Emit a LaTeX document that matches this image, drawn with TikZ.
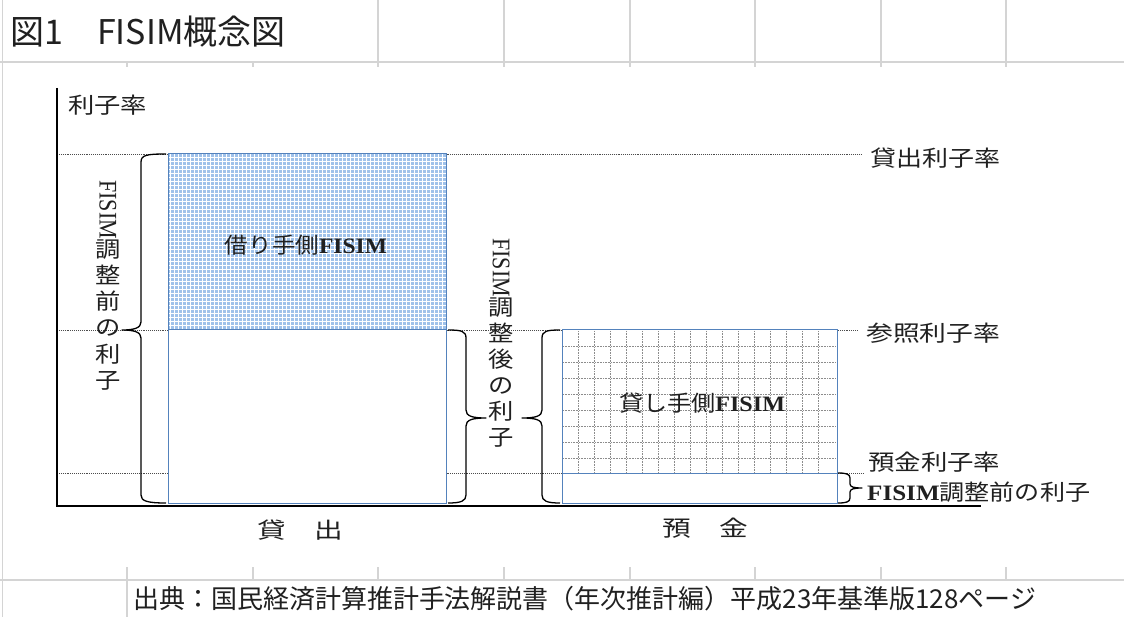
\documentclass[tikz,border=0pt]{standalone}
\usepackage{fontspec}
\setmainfont{Liberation Serif}
\newfontfamily\jp{Noto Sans CJK JP}
\definecolor{gridgray}{RGB}{212,212,212}
\definecolor{boxblue}{RGB}{84,130,188}
\definecolor{fillblue}{RGB}{160,194,234}
\definecolor{ink}{RGB}{32,32,32}
\newcommand{\fitw}[2]{\resizebox{#1}{\height}{#2}}
\begin{document}
\begin{tikzpicture}[x=1pt,y=-1pt,
  sheet/.style={draw=gridgray, line width=1.3pt},
  sheetrow/.style={draw=gridgray, line width=2.4pt},
  rate/.style={densely dotted, line width=0.9pt, draw=black!70},
  bar/.style={draw=boxblue, line width=1pt},
  dgrid/.style={densely dotted, line width=0.6pt, draw=black!45},
  bracestyle/.style={draw=black, line width=1.3pt, line join=round},
  lab/.style={inner sep=0pt, text=ink, font=\jp\fontsize{22}{26}\selectfont},
  axisline/.style={draw=black, line width=1.5pt},
]
\useasboundingbox (0,0) rectangle (1124,617);
\fill[white] (0,0) rectangle (1124,617);

% spreadsheet grid
\draw[sheet] (2.5,0) -- (2.5,617);
\foreach \x in {378,504,630,755,881,1006} \draw[sheet] (\x,0) -- (\x,67);
\foreach \x in {127,253} \draw[sheet] (\x,62) -- (\x,67);
\foreach \x in {127,253,378,504,630,755,881,1006} \draw[sheet] (\x,567) -- (\x,580);
\draw[sheet] (127,580) -- (127,617);
\draw[sheetrow] (0,62) -- (1124,62);
\draw[sheetrow] (0,580) -- (1124,580);

% title and source
\node[anchor=west, inner sep=0pt, text=ink, font=\jp\fontsize{34}{34}\selectfont] (title) at (10,32) {図1　FISIM概念図};
\node[anchor=west, inner sep=0pt, text=ink, font=\jp\fontsize{26}{26}\selectfont] (src) at (133,599)
  {\fitw{903pt}{出典：国民経済計算推計手法解説書（年次推計編）平成23年基準版128ページ}};

% rate lines
\coordinate (r1a) at (57,154); \coordinate (r1b) at (862,154);
\coordinate (r2a) at (57,330); \coordinate (r2b) at (858,330);
\coordinate (r3a) at (57,473); \coordinate (r3b) at (863,473);
\draw[rate] (r1a) -- (r1b);
\draw[rate] (r2a) -- (r2b);
\draw[rate] (r3a) -- (r3b);

% borrower FISIM box
\fill[fillblue] (168,154) rectangle (446,330);
\foreach \x in {170,174,...,444} \draw[white, line width=0.6pt] (\x,154) -- (\x,330);
\foreach \y in {157,161,...,329} \draw[white, line width=0.6pt] (168,\y) -- (446,\y);
\draw[bar] (168,154) rectangle (446,330);
\draw[bar, fill=white] (168,330) rectangle (446,503);

% lender FISIM box
\draw[bar, fill=white] (562,330) rectangle (837,503);
\foreach \x in {578,594,...,830} \draw[dgrid] (\x,331) -- (\x,472);
\foreach \y in {346,362,...,466} \draw[dgrid] (563,\y) -- (836,\y);
\draw[bar] (562,473) -- (837,473);
\draw[bar] (562,330) rectangle (837,503);

% axes
\coordinate (ytop) at (57,88);
\coordinate (O) at (57,506);
\coordinate (xend) at (981,506);
\draw[axisline] (ytop) -- (O) -- (xend);

% braces
\draw[bracestyle] (166,154) .. controls (147,154) and (141,155) .. (141,162) -- (141,322)
  .. controls (141,328) and (134,330) .. (122,330) .. controls (134,330) and (141,332) .. (141,338)
  -- (141,495) .. controls (141,501) and (147,503) .. (166,503);
\draw[bracestyle] (448,330) .. controls (461,330) and (466,331) .. (466,338) -- (466,410)
  .. controls (466,416) and (472,418) .. (486,418) .. controls (472,418) and (466,420) .. (466,426)
  -- (466,495) .. controls (466,501) and (461,503) .. (448,503);
\draw[bracestyle] (560,330) .. controls (547,330) and (542,331) .. (542,338) -- (542,410)
  .. controls (542,416) and (536,418) .. (522,418) .. controls (536,418) and (542,420) .. (542,426)
  -- (542,495) .. controls (542,501) and (547,503) .. (560,503);
\draw[bracestyle] (838,473) .. controls (846,473) and (850,474) .. (850,478) -- (850,484)
  .. controls (850,487) and (854,488) .. (862,488) .. controls (854,488) and (850,489) .. (850,492)
  -- (850,498) .. controls (850,502) and (846,503) .. (838,503);

% labels
\node[lab, anchor=west] (yl) at (68,105) {\fitw{79pt}{利子率}};
\node[lab, anchor=west] (loanrate) at (870,158) {\fitw{130pt}{貸出利子率}};
\node[lab, anchor=west] (refrate) at (866,333) {\fitw{134pt}{参照利子率}};
\node[lab, anchor=west] (deprate) at (868,462) {\fitw{132pt}{預金利子率}};
\node[lab, anchor=west] (prefisim) at (867,492) {\fitw{223pt}{{\rmfamily\bfseries FISIM}調整前の利子}};
\node[lab] (borrow) at (306,245) {\fitw{162pt}{借り手側{\rmfamily\bfseries FISIM}}};
\node[lab] (lend) at (702,403) {\fitw{166pt}{貸し手側{\rmfamily\bfseries FISIM}}};
\node[lab] (xl1) at (300,530) {\fitw{86pt}{貸　出}};
\node[lab] (xl2) at (705,528) {\fitw{86pt}{預　金}};
\node[lab, anchor=north] (vl1) at (108,162)
  {\scalebox{1.15}[1]{\begin{tabular}{@{}c@{}}\rotatebox{-90}{\rmfamily FISIM}\\調\\整\\前\\の\\利\\子\end{tabular}}};
\node[lab, anchor=north] (vl2) at (501,220)
  {\scalebox{1.15}[1]{\begin{tabular}{@{}c@{}}\rotatebox{-90}{\rmfamily FISIM}\\調\\整\\後\\の\\利\\子\end{tabular}}};
\end{tikzpicture}
\end{document}
